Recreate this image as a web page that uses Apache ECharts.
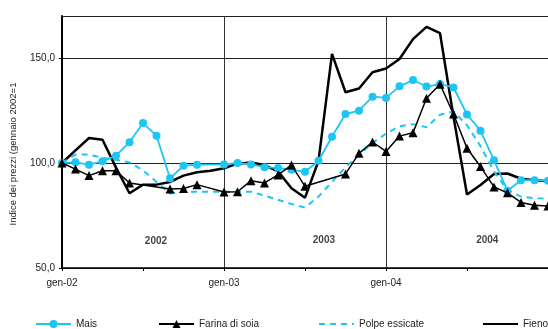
<!DOCTYPE html>
<html>
<head>
<meta charset="utf-8">
<script src="https://cdn.jsdelivr.net/npm/echarts@6/dist/echarts.min.js"></script>
<style>
  html, body { margin: 0; padding: 0; background: #fff; }
  #chart { width: 548px; height: 329px; }
</style>
</head>
<body>
<div id="chart"></div>
<script>
// Monthly categories, January 2002 through January 2005
const months = [
  'gen-02','feb-02','mar-02','apr-02','mag-02','giu-02','lug-02','ago-02','set-02','ott-02','nov-02','dic-02',
  'gen-03','feb-03','mar-03','apr-03','mag-03','giu-03','lug-03','ago-03','set-03','ott-03','nov-03','dic-03',
  'gen-04','feb-04','mar-04','apr-04','mag-04','giu-04','lug-04','ago-04','set-04','ott-04','nov-04','dic-04',
  'gen-05'
];

// Price indices (January 2002 = 100); null = month without a quotation
const mais = [
  100, 100.3, 99.2, 100.8, 103.5, 109.9, 119, 113, 92.7, 98.7, 99.2, null,
  99.3, 100, 99.3, 98, 97.6, 96.8, 95.8, 101.1, 112.5, 123.3, 124.9, 131.6,
  131, 136.5, 139.5, 136.4, 137.6, 136, 123.1, 115.4, 101.3, 86.8, 91.8, 91.8,
  91.5
];
const farinaSoia = [
  100, 97.1, 94, 96.3, 96.3, 90.5, null, null, 87.6, 87.9, 89.7, null,
  86.2, 86.3, 91.6, 90.5, 94.3, 99, 88.9, null, null, 94.8, 104.6, 110,
  105.5, 112.8, 114.4, 130.8, 137.5, 123.3, 107, 98.3, 88.6, 85.8, 81.2, 79.9,
  79.5
];
const polpeEssicate = [
  100, 104, 104, 102.5, 101.5, 100.3, 96.5, 91, 85.5, 86.3, 86.3, 86.3,
  86.3, 86.3, 86.3, 84.5, 82.5, 80.5, 78.8, 84, 91, 98, 104, 109.5,
  114, 117.5, 118.5, 117, 123, 124.5, 118, 108, 96, 87, 84, 83.2,
  83
];
const fieno = [
  100, 106, 111.9, 111.1, 97.8, 85.6, 89.7, 89.7, 91, 94, 95.6, 96.3,
  97.5, 99.7, 100.2, 99, 96, 88, 83.5, 101, 152, 133.7, 135.5, 143.2,
  145, 149.5, 159, 164.8, 161.8, 122, 85, 89.5, 94.8, 95, 92.5, 91.8,
  91.3
];

// Year captions inside the plot
const yearNames = ['2002', '2003', '2004'];
const yearCaptionAt = [[6.96, 62.9], [19.4, 63.3], [31.5, 63.3]];

const FONT = '"Liberation Sans", Arial, Helvetica, sans-serif';
const CYAN = '#1cc6f2';
const pairs = arr => arr.map((v, i) => [i, v]);
const noMarker = { color: 'rgba(0,0,0,0)', borderWidth: 0 };

// One legend block per series, spread along the bottom edge
const legendSlots = [
  { name: 'Mais', left: 35 },
  { name: 'Farina di soia', left: 158 },
  { name: 'Polpe essicate', left: 318, hideMarker: true },
  { name: 'Fieno', left: 482, hideMarker: true }
];
const legends = legendSlots.map(s => ({
  data: [s.hideMarker ? { name: s.name, itemStyle: noMarker } : { name: s.name }],
  left: s.left,
  top: 319,
  padding: 0,
  itemWidth: 35,
  itemHeight: 10,
  textStyle: { fontSize: 10, color: '#222', fontFamily: FONT }
}));

const chart = echarts.init(document.getElementById('chart'), null, { renderer: 'canvas' });

chart.setOption({
  animation: false,
  backgroundColor: '#fff',
  textStyle: { fontFamily: FONT },
  grid: { left: 62, top: 16, width: 489, height: 252 },
  xAxis: {
    type: 'value',
    min: 0,
    max: months.length - 1,
    interval: 12,
    axisLine: { show: true, onZero: false, lineStyle: { color: '#000', width: 1.5 } },
    axisTick: { show: true, length: 3, lineStyle: { color: '#000' } },
    minorTick: { show: true, splitNumber: 2, length: 3, lineStyle: { color: '#000' } },
    axisLabel: {
      margin: 10, fontSize: 10, color: '#222', fontFamily: FONT,
      showMaxLabel: false,
      formatter: v => months[v] || ''
    },
    splitLine: { show: true, lineStyle: { color: '#333', width: 1 } }
  },
  yAxis: {
    type: 'value',
    min: 50,
    max: 170,
    interval: 50,
    axisLine: { show: true, lineStyle: { color: '#000', width: 2 } },
    axisTick: { show: true, length: 3, lineStyle: { color: '#000' } },
    axisLabel: {
      margin: 7, fontSize: 10, color: '#222', fontFamily: FONT,
      showMaxLabel: false,
      formatter: v => v.toFixed(1).replace('.', ',')
    },
    splitLine: { show: true, lineStyle: { color: '#222', width: 1 } }
  },
  legend: legends,
  graphic: [{
    type: 'text',
    x: 13,
    y: 154,
    rotation: Math.PI / 2,
    style: {
      text: 'Indice dei prezzi (gennaio 2002=1',
      font: '9.5px ' + FONT,
      fill: '#222',
      textAlign: 'center',
      textVerticalAlign: 'middle'
    }
  }],
  series: [
    {
      name: 'Fieno',
      type: 'line',
      data: pairs(fieno),
      connectNulls: true,
      symbol: 'none',
      z: 2,
      lineStyle: { color: '#000', width: 2.5 },
      itemStyle: { color: '#000' }
    },
    {
      name: 'Polpe essicate',
      type: 'line',
      data: pairs(polpeEssicate),
      connectNulls: true,
      symbol: 'none',
      z: 3,
      lineStyle: { color: CYAN, width: 2, type: [6, 5] },
      itemStyle: { color: CYAN }
    },
    {
      name: 'Mais',
      type: 'line',
      data: pairs(mais),
      connectNulls: true,
      symbol: 'circle',
      symbolSize: 8,
      z: 4,
      lineStyle: { color: CYAN, width: 1.8 },
      itemStyle: { color: CYAN }
    },
    {
      name: 'Farina di soia',
      type: 'line',
      data: pairs(farinaSoia),
      connectNulls: true,
      symbol: 'triangle',
      symbolSize: 9,
      z: 5,
      lineStyle: { color: '#000', width: 1.5 },
      itemStyle: { color: '#000' }
    },
    {
      name: 'anni',
      type: 'scatter',
      data: yearCaptionAt.map((p, i) => [p[0], p[1], yearNames[i]]),
      symbolSize: 0,
      silent: true,
      z: 6,
      label: {
        show: true,
        position: 'inside',
        formatter: p => p.value[2],
        fontSize: 10,
        fontWeight: 'bold',
        color: '#111',
        fontFamily: FONT
      }
    }
  ]
});
</script>
</body>
</html>
